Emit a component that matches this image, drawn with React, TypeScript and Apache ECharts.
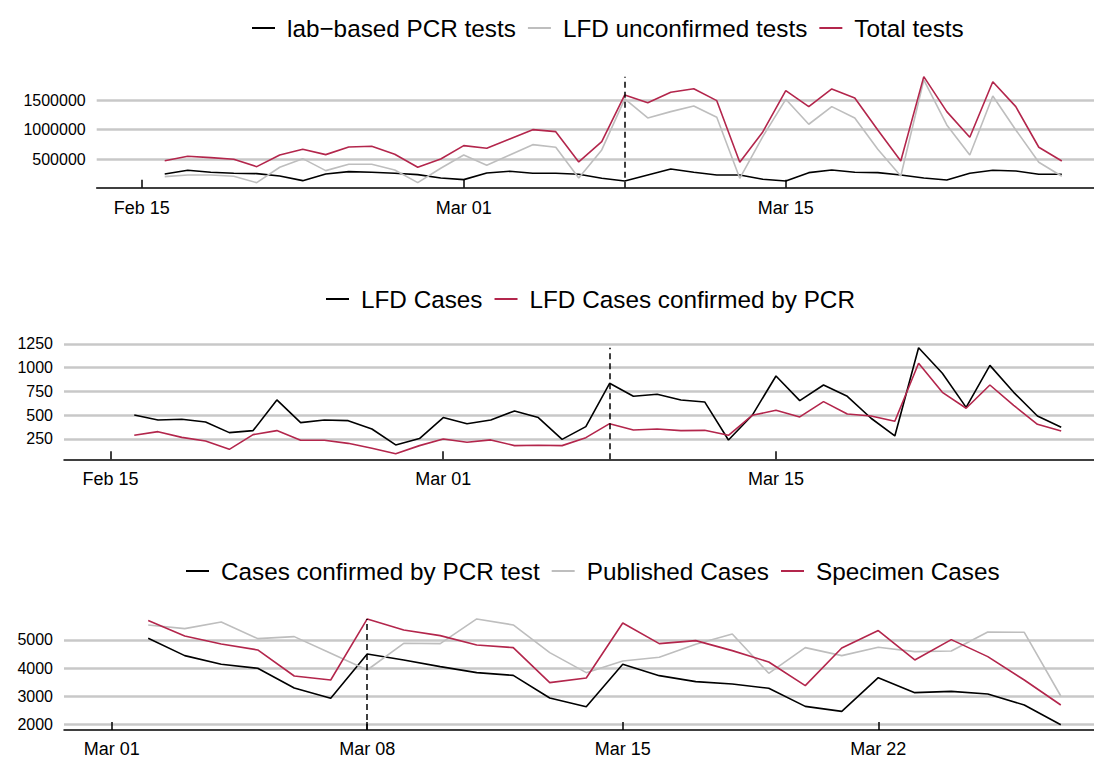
import React, { useEffect, useRef } from "react";
import * as echarts from "echarts";

const MONTHS = ["Jan", "Feb", "Mar", "Apr", "May", "Jun", "Jul", "Aug", "Sep", "Oct", "Nov", "Dec"];
const DAY = 86400000;
const dayNum = (iso: string) => {
  const [y, m, d] = iso.split("-").map(Number);
  return Date.UTC(y, m - 1, d) / DAY;
};
const dayLabel = (n: number) => {
  const dt = new Date(Math.round(n) * DAY);
  return MONTHS[dt.getUTCMonth()] + " " + String(dt.getUTCDate()).padStart(2, "0");
};
const makeDates = (start: string, count: number) =>
  Array.from({ length: count }, (_, i) => {
    const dt = new Date((dayNum(start) + i) * DAY);
    return dt.toISOString().slice(0, 10);
  });

// ---- categories ----
const testDates = makeDates("2021-02-16", 40);
const lfdDates = makeDates("2021-02-16", 40);
const caseDates = makeDates("2021-03-02", 26);
const markerDate = "2021-03-08";
const upperTicks = ["2021-02-15", "2021-03-01", "2021-03-15"];
const lowerTicks = ["2021-03-01", "2021-03-08", "2021-03-15", "2021-03-22"];

// ---- panel 1: tests ----
const pcrTests = [253000, 315000, 281000, 264000, 259000, 219000, 140000, 253000, 292000, 281000, 264000, 242000, 185000, 157000, 270000, 298000, 264000, 264000, 247000, 180000,
  135000, 236000, 337000, 281000, 236000, 236000, 163000, 135000, 275000, 320000, 281000, 275000, 236000, 185000, 152000, 264000, 315000, 303000, 247000, 247000];
const lfdUnconfirmed = [207000, 236000, 236000, 214000, 106000, 366000, 511000, 309000, 416000, 416000, 320000, 106000, 349000, 573000, 399000, 573000, 747000, 703000, 185000, 658000,
  1518000, 1197000, 1304000, 1400000, 1209000, 180000, 882000, 1512000, 1091000, 1388000, 1197000, 669000, 219000, 1838000, 1079000, 573000, 1568000, 995000, 450000, 214000];
const totalTests = [477000, 551000, 528000, 500000, 376000, 573000, 669000, 579000, 708000, 720000, 585000, 366000, 506000, 730000, 686000, 843000, 1000000, 966000, 455000, 798000,
  1585000, 1455000, 1630000, 1691000, 1489000, 450000, 961000, 1658000, 1388000, 1686000, 1535000, 995000, 472000, 1894000, 1304000, 872000, 1809000, 1388000, 703000, 472000];
const testTicks = [500000, 1000000, 1500000];

// ---- panel 2: LFD cases ----
const lfdCases = [503, 450, 457, 429, 317, 338, 661, 422, 450, 443, 355, 187, 254, 475, 411, 450, 545, 475, 246, 380,
  836, 699, 720, 661, 640, 239, 499, 913, 654, 818, 699, 468, 282, 1211, 941, 583, 1025, 741, 492, 373];
const lfdConfirmed = [289, 327, 267, 228, 141, 296, 338, 236, 236, 204, 152, 95, 180, 250, 215, 240, 180, 184, 180, 264,
  411, 345, 355, 338, 341, 289, 499, 552, 482, 643, 513, 492, 436, 1047, 741, 573, 818, 604, 404, 334];
const lfdTicks = [250, 500, 750, 1000, 1250];

// ---- panel 3: cases ----
const pcrCases = [5060, 4443, 4135, 3992, 3293, 2925, 4502, 4289, 4052, 3838, 3743, 2937, 2629, 4135, 3732, 3518, 3435, 3281, 2640, 2463, 3660, 3127, 3174, 3079, 2688, 1988];
const publishedCases = [5534, 5404, 5641, 5048, 5119, 4526, 3933, 4882, 4870, 5748, 5534, 4550, 3838, 4253, 4384, 4846, 5214, 3815, 4728, 4443, 4740, 4585, 4609, 5285, 5273, 3008];
const specimenCases = [5689, 5143, 4858, 4645, 3720, 3577, 5748, 5356, 5155, 4823, 4728, 3483, 3649, 5605, 4870, 4977, 4621, 4218, 3376, 4716, 5333, 4289, 5012, 4408, 3577, 2688];
const caseTicks = [2000, 3000, 4000, 5000];

const FONT = "'Liberation Sans', Arial, Helvetica, sans-serif";
const RED = "#B3264C";
const GRAY = "#BEBEBE";
const BLACK = "#000000";

export default function App() {
  const ref = useRef<HTMLDivElement>(null);

  useEffect(() => {
    if (!ref.current) return;
    const chart = echarts.init(ref.current, undefined, { renderer: "svg" });

    const pairs = (dates: string[], vals: number[]) => dates.map((d, i) => [dayNum(d), vals[i]]);

    const grids = [
      { left: 96.7, top: 72.5, height: 115.2, right: 0 },
      { left: 64, top: 343.5, height: 115.8, right: 0 },
      { left: 64, top: 614.5, height: 115.5, right: 0 },
    ].map((g) => ({ ...g, containLabel: false, outerBoundsMode: "none" }));

    const xRanges = [
      { min: dayNum("2021-02-15") - 1.957, max: dayNum("2021-02-15") + 41.4, ticks: upperTicks },
      { min: dayNum("2021-02-15") - 1.956, max: dayNum("2021-02-15") + 41.38, ticks: upperTicks },
      { min: dayNum("2021-03-01") - 1.307, max: dayNum("2021-03-01") + 26.91, ticks: lowerTicks },
    ];
    const yRanges = [
      { min: 21000, max: 1964000, ticks: testTicks },
      { min: 36, max: 1255, ticks: lfdTicks },
      { min: 1800, max: 5905, ticks: caseTicks },
    ];

    const xAxis = xRanges.map((r, i) => ({
      type: "value",
      gridIndex: i,
      min: r.min,
      max: r.max,
      axisLine: { show: true, onZero: false, lineStyle: { color: BLACK, width: 1.5 } },
      axisTick: {
        show: true,
        inside: true,
        length: 8,
        customValues: r.ticks.map(dayNum),
        lineStyle: { color: BLACK, width: 1.5 },
      },
      axisLabel: {
        customValues: r.ticks.map(dayNum),
        formatter: (v: number) => dayLabel(v),
        fontSize: 18,
        lineHeight: 18,
        color: BLACK,
        fontFamily: FONT,
        margin: i === 2 ? 9.5 : 11,
      },
      splitLine: { show: false },
    }));

    const yAxis = yRanges.map((r, i) => ({
      type: "value",
      gridIndex: i,
      min: r.min,
      max: r.max,
      axisLine: { show: false },
      axisTick: { show: false, customValues: r.ticks },
      axisLabel: {
        customValues: r.ticks,
        formatter: (v: number) => String(Math.round(v)),
        fontSize: 16,
        color: BLACK,
        fontFamily: FONT,
        margin: 11,
      },
      splitLine: { show: true, lineStyle: { color: "#c8c8c8", width: 2.5 } },
    }));

    const marker = (maxVal: number, yMin: number) => ({
      silent: true,
      symbol: ["none", "none"],
      label: { show: false },
      lineStyle: { color: BLACK, type: [6, 4], width: 1.5 },
      data: [[{ coord: [dayNum(markerDate), yMin] }, { coord: [dayNum(markerDate), maxVal] }]],
    });

    const line = (name: string, color: string, dates: string[], vals: number[], gi: number, extra: any = {}) => ({
      type: "line",
      name,
      xAxisIndex: gi,
      yAxisIndex: gi,
      data: pairs(dates, vals),
      symbol: "none",
      showSymbol: false,
      lineStyle: { color, width: 1.6 },
      itemStyle: { color },
      emphasis: { disabled: true },
      ...extra,
    });

    const topMax = Math.max(...pcrTests, ...lfdUnconfirmed, ...totalTests);
    const midMax = Math.max(...lfdCases, ...lfdConfirmed);
    const botMax = Math.max(...pcrCases, ...publishedCases, ...specimenCases);

    const series = [
      line("lab−based PCR tests", BLACK, testDates, pcrTests, 0, { markLine: marker(topMax, yRanges[0].min) }),
      line("LFD unconfirmed tests", GRAY, testDates, lfdUnconfirmed, 0),
      line("Total tests", RED, testDates, totalTests, 0),
      line("LFD Cases", BLACK, lfdDates, lfdCases, 1, { markLine: marker(midMax, yRanges[1].min) }),
      line("LFD Cases confirmed by PCR", RED, lfdDates, lfdConfirmed, 1),
      line("Cases confirmed by PCR test", BLACK, caseDates, pcrCases, 2, { markLine: marker(botMax, yRanges[2].min) }),
      line("Published Cases", GRAY, caseDates, publishedCases, 2),
      line("Specimen Cases", RED, caseDates, specimenCases, 2),
    ];

    const legendBase = {
      orient: "horizontal",
      icon: "rect",
      padding: 0,
      itemWidth: 23,
      itemHeight: 2,
      itemGap: 12,
      selectedMode: false,
      textStyle: { fontSize: 24.3, lineHeight: 24, color: BLACK, fontFamily: FONT, padding: [0, 0, 0, 7] },
    };
    const legend = [
      { ...legendBase, left: 252, top: 16, data: ["lab−based PCR tests", "LFD unconfirmed tests", "Total tests"] },
      { ...legendBase, left: 326, top: 287, data: ["LFD Cases", "LFD Cases confirmed by PCR"] },
      { ...legendBase, left: 186, top: 559, data: ["Cases confirmed by PCR test", "Published Cases", "Specimen Cases"] },
    ];

    chart.setOption({
      animation: false,
      backgroundColor: "#ffffff",
      textStyle: { fontFamily: FONT },
      grid: grids,
      xAxis,
      yAxis,
      legend,
      series,
    });

    return () => chart.dispose();
  }, []);

  return (
    <div
      ref={ref}
      style={{ position: "absolute", left: 0, top: 0, width: 1094, height: 758, background: "#fff" }}
    />
  );
}
